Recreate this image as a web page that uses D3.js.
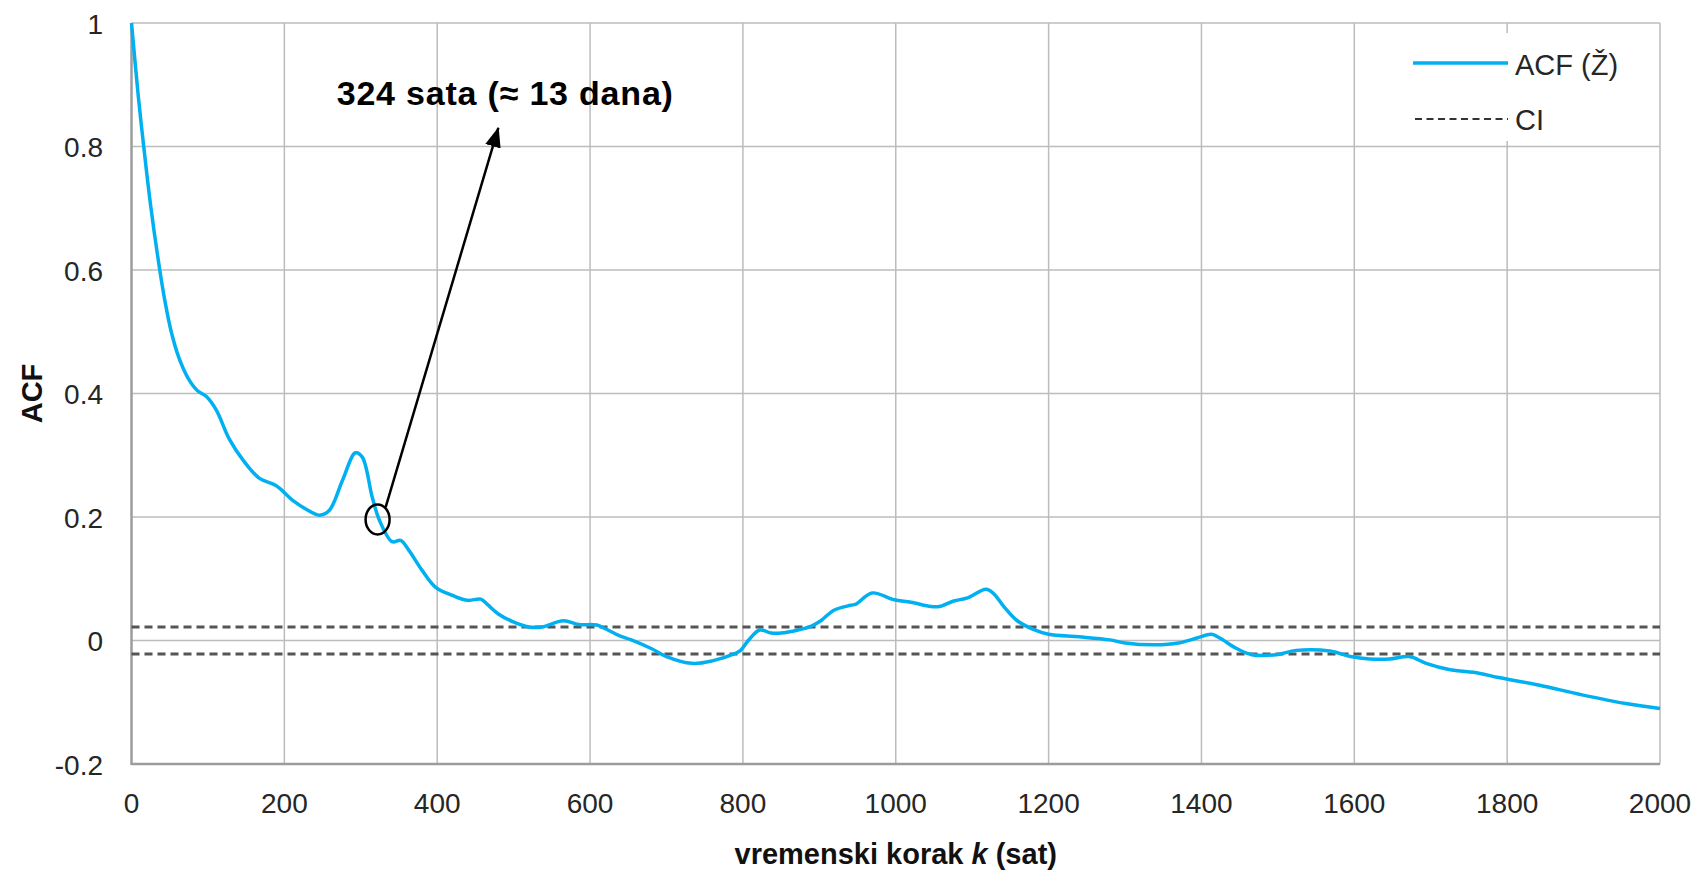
<!DOCTYPE html>
<html>
<head>
<meta charset="utf-8">
<script src="https://cdn.jsdelivr.net/npm/d3@7"></script>
<style>
  body { margin: 0; background: #fff; }
  svg text { font-family: "Liberation Sans", Arial, sans-serif; }
</style>
</head>
<body>
<div id="chart"></div>
<script>
const lags = [0, 9, 16, 25, 37, 44, 52, 62, 74, 86, 98, 111, 128, 146, 167, 189, 211, 228, 246, 259,
  276, 293, 302, 315, 324, 341, 352, 363, 380, 398, 420, 440, 457, 466, 480, 498, 520, 537, 565, 585,
  609, 620, 638, 654, 680, 700, 733, 760, 790, 797, 807, 822, 837, 850, 872, 889, 902, 919, 941, 948,
  969, 998, 1020, 1046, 1057, 1076, 1094, 1118, 1128, 1142, 1159, 1180, 1200, 1240, 1280, 1300, 1340,
  1370, 1394, 1413, 1424, 1446, 1466, 1498, 1524, 1568, 1595, 1620, 1646, 1672, 1694, 1724, 1763,
  1789, 1841, 1898, 1955, 2000];
const acf = [1.0, 0.88, 0.80, 0.705, 0.60, 0.548, 0.500, 0.458, 0.425, 0.405, 0.395, 0.373, 0.326, 0.292,
  0.263, 0.251, 0.227, 0.213, 0.203, 0.211, 0.259, 0.304, 0.297, 0.232, 0.196, 0.160, 0.162, 0.146,
  0.114, 0.086, 0.073, 0.065, 0.067, 0.058, 0.043, 0.031, 0.022, 0.022, 0.032, 0.026, 0.025, 0.019,
  0.008, 0.001, -0.013, -0.026, -0.037, -0.033, -0.021, -0.016, 0.0, 0.017, 0.012, 0.012, 0.017,
  0.023, 0.032, 0.049, 0.057, 0.059, 0.077, 0.066, 0.062, 0.055, 0.055, 0.064, 0.069, 0.083, 0.076,
  0.054, 0.032, 0.018, 0.010, 0.006, 0.001, -0.004, -0.007, -0.004, 0.004, 0.010, 0.004, -0.013,
  -0.023, -0.023, -0.016, -0.017, -0.026, -0.030, -0.030, -0.026, -0.037, -0.047, -0.053, -0.060,
  -0.072, -0.088, -0.102, -0.110];
const ciBounds = [0.022, -0.022];
const xTicks = [0, 200, 400, 600, 800, 1000, 1200, 1400, 1600, 1800, 2000];
const yTicks = [-0.2, 0, 0.2, 0.4, 0.6, 0.8, 1];
const legendLabels = ["ACF (Ž)", "CI"];
const note = { lag: 322, value: 0.196, text: "324 sata (≈ 13 dana)" };

const width = 1698, height = 870;
const svg = d3.select("#chart").append("svg")
  .attr("width", width).attr("height", height)
  .attr("viewBox", [0, 0, width, height]);

const x = d3.scaleLinear().domain([0, 2000]).range([131.5, 1660]);
const y = d3.scaleLinear().domain([-0.2, 1]).range([764, 23]);

// grid
svg.append("g")
  .selectAll("line")
  .data(xTicks.slice(1))
  .join("line")
  .attr("x1", d => x(d)).attr("x2", d => x(d))
  .attr("y1", y(1)).attr("y2", y(-0.2))
  .attr("stroke", "#bcbcbc").attr("stroke-width", 1.5);

svg.append("g")
  .selectAll("line")
  .data(yTicks.slice(1))
  .join("line")
  .attr("x1", x(0)).attr("x2", x(2000))
  .attr("y1", d => y(d)).attr("y2", d => y(d))
  .attr("stroke", "#bcbcbc").attr("stroke-width", 1.5);

// axis lines
svg.append("line")
  .attr("x1", x(0)).attr("x2", x(0)).attr("y1", y(1)).attr("y2", y(-0.2) + 1)
  .attr("stroke", "#9c9c9c").attr("stroke-width", 2.5);
svg.append("line")
  .attr("x1", x(0)).attr("x2", x(2000)).attr("y1", y(-0.2)).attr("y2", y(-0.2))
  .attr("stroke", "#9c9c9c").attr("stroke-width", 2.5);

// tick labels
svg.append("g")
  .selectAll("text")
  .data(xTicks)
  .join("text")
  .attr("x", d => x(d))
  .attr("y", y(-0.2) + 49)
  .attr("text-anchor", "middle")
  .attr("font-size", 28)
  .attr("fill", "#262626")
  .text(d => d);

svg.append("g")
  .selectAll("text")
  .data(yTicks)
  .join("text")
  .attr("x", 103)
  .attr("y", d => y(d) + 10.5)
  .attr("text-anchor", "end")
  .attr("font-size", 28)
  .attr("fill", "#262626")
  .text(d => d);

// axis titles
const xt = svg.append("text")
  .attr("x", (x(0) + x(2000)) / 2)
  .attr("y", 864)
  .attr("text-anchor", "middle")
  .attr("font-size", 29)
  .attr("font-weight", "bold")
  .attr("fill", "#111");
xt.append("tspan").text("vremenski korak ");
xt.append("tspan").attr("font-style", "italic").text("k");
xt.append("tspan").text(" (sat)");

svg.append("text")
  .attr("transform", `translate(41.5,${(y(1) + y(-0.2)) / 2}) rotate(-90)`)
  .attr("text-anchor", "middle")
  .attr("font-size", 29)
  .attr("font-weight", "bold")
  .attr("fill", "#111")
  .text("ACF");

// confidence interval
svg.append("g")
  .selectAll("line")
  .data(ciBounds)
  .join("line")
  .attr("x1", x(0)).attr("x2", x(2000))
  .attr("y1", d => y(d)).attr("y2", d => y(d))
  .attr("stroke", "#555").attr("stroke-width", 3)
  .attr("stroke-dasharray", "8,5");

// acf line
const line = d3.line()
  .x((d, i) => x(lags[i]))
  .y(d => y(d))
  .curve(d3.curveCatmullRom.alpha(0.5));

svg.append("path")
  .datum(acf)
  .attr("fill", "none")
  .attr("stroke", "#00b0f0")
  .attr("stroke-width", 3.5)
  .attr("stroke-linejoin", "round")
  .attr("d", line);

// annotation
svg.append("defs").append("marker")
  .attr("id", "arrow")
  .attr("viewBox", "0 0 20 16")
  .attr("refX", 19).attr("refY", 8)
  .attr("markerWidth", 20).attr("markerHeight", 16)
  .attr("markerUnits", "userSpaceOnUse")
  .attr("orient", "auto")
  .append("path")
  .attr("d", "M0,0 L20,8 L0,16 z")
  .attr("fill", "#000");

svg.append("ellipse")
  .attr("cx", x(note.lag)).attr("cy", y(note.value))
  .attr("rx", 12).attr("ry", 15)
  .attr("fill", "none").attr("stroke", "#000").attr("stroke-width", 2.5);

svg.append("line")
  .attr("x1", x(note.lag) + 8).attr("y1", y(note.value) - 12)
  .attr("x2", x(480)).attr("y2", y(0.83))
  .attr("stroke", "#000").attr("stroke-width", 2.5)
  .attr("marker-end", "url(#arrow)");

svg.append("text")
  .attr("x", x(489))
  .attr("y", 105)
  .attr("text-anchor", "middle")
  .attr("font-size", 34)
  .attr("font-weight", "bold")
  .attr("letter-spacing", 0.8)
  .attr("fill", "#000")
  .text(note.text);

// legend
const legend = svg.append("g");
legend.append("rect")
  .attr("x", 1398).attr("y", 33).attr("width", 258).attr("height", 108)
  .attr("fill", "#fff");
legend.append("line")
  .attr("x1", 1413).attr("x2", 1508).attr("y1", 63).attr("y2", 63)
  .attr("stroke", "#00b0f0").attr("stroke-width", 3.5);
legend.append("line")
  .attr("x1", 1415).attr("x2", 1508).attr("y1", 119).attr("y2", 119)
  .attr("stroke", "#333").attr("stroke-width", 2)
  .attr("stroke-dasharray", "7,4.5");
legend.selectAll("text")
  .data(legendLabels)
  .join("text")
  .attr("x", 1515)
  .attr("y", (d, i) => 75 + i * 55)
  .attr("font-size", 29)
  .attr("fill", "#262626")
  .text(d => d);
</script>
</body>
</html>
